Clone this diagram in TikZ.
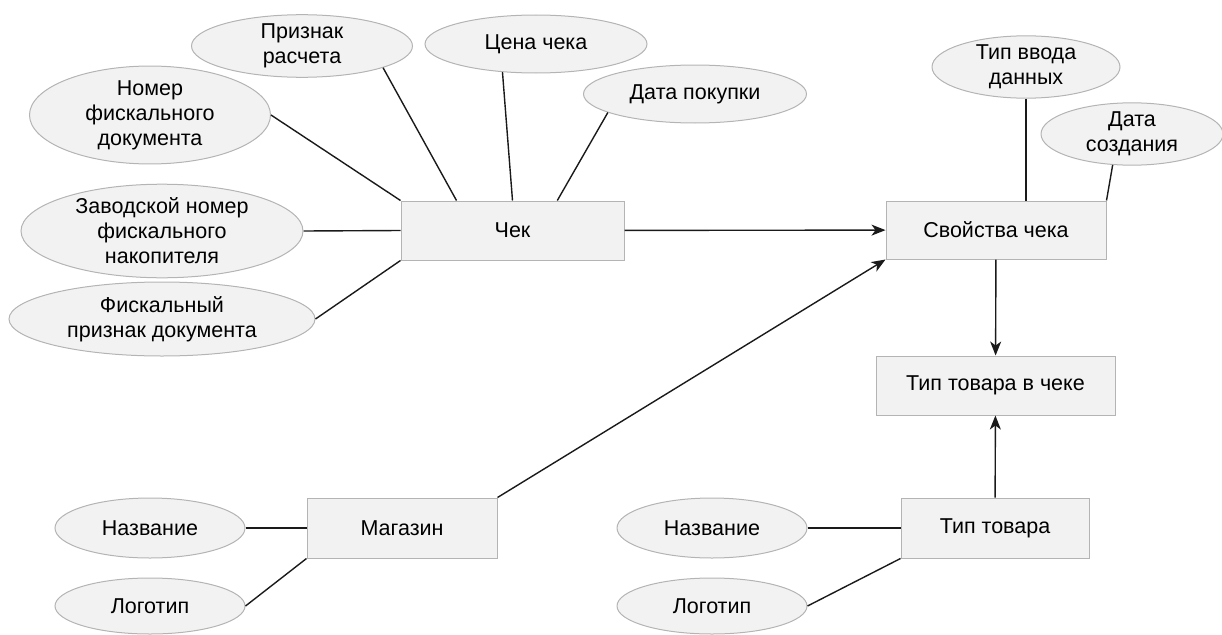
\documentclass[tikz,border=0pt]{standalone}
\usepackage{fontspec}
\setmainfont{Liberation Sans}
\usepackage{tikz}
\usetikzlibrary{arrows.meta,shapes.geometric,calc}
\definecolor{boxfill}{HTML}{F2F2F2}
\definecolor{boxline}{HTML}{B4B4B4}
\definecolor{inkline}{HTML}{1A1A1A}
\begin{document}
\begin{tikzpicture}[x=1pt,y=-1pt,font=\fontsize{21.5}{25}\selectfont]
\tikzstyle{attr}=[ellipse,draw=boxline,fill=boxfill,inner sep=0pt,align=center,line width=1pt]
\tikzstyle{entity}=[rectangle,draw=boxline,fill=boxfill,inner sep=0pt,line width=1pt]
\tikzstyle{link}=[inkline,line width=1.4pt]
\tikzstyle{rel}=[link,-{Stealth[length=14pt,width=11pt,inset=4pt]}]
\useasboundingbox (0,0) rectangle (1222,634);

% entities
\node[entity,minimum width=223pt,minimum height=59pt] (chek) at (512.5,230.5) {Чек};
\node[entity,minimum width=220pt,minimum height=58pt] (svojstva) at (996,230) {Свойства чека};
\node[entity,minimum width=239pt,minimum height=59pt] (tipvcheke) at (995.5,385.5) {Тип товара в чеке};
\node[entity,minimum width=190pt,minimum height=60pt] (magazin) at (402,528) {Магазин};
\node[entity,minimum width=188pt,minimum height=60pt] (tiptovara) at (995,528) {Тип товара};

% attributes
\node[attr,minimum width=221pt,minimum height=58pt] (priznak) at (302,46) {Признак\\расчета};
\node[attr,minimum width=222pt,minimum height=58pt] (cena) at (536,44) {Цена чека};
\node[attr,minimum width=223pt,minimum height=58pt] (datapok) at (695,94) {Дата покупки};
\node[attr,minimum width=241pt,minimum height=97pt] (nomer) at (150,115) {Номер\\фискального\\документа};
\node[attr,minimum width=282pt,minimum height=87pt] (zavod) at (162,231) {Заводской номер\\фискального\\накопителя};
\node[attr,minimum width=306pt,minimum height=74pt] (fiskal) at (162,319) {Фискальный\\признак документа};
\node[attr,minimum width=188pt,minimum height=60pt] (tipvvoda) at (1026,67) {Тип ввода\\данных};
\node[attr,minimum width=182pt,minimum height=58pt] (datasozd) at (1132,134) {Дата\\создания};
\node[attr,minimum width=190pt,minimum height=60pt] (nazv1) at (150,528) {Название};
\node[attr,minimum width=190pt,minimum height=56pt] (logo1) at (150,606) {Логотип};
\node[attr,minimum width=190pt,minimum height=60pt] (nazv2) at (712,528) {Название};
\node[attr,minimum width=190pt,minimum height=56pt] (logo2) at (712,606) {Логотип};

\draw[link] (priznak.-15) -- ($(chek.north west)!0.25!(chek.north east)$);
\draw[link] (cena.-140) -- (chek.north);
\draw[link] (datapok.-168) -- ($(chek.north west)!0.7!(chek.north east)$);
\draw[link] (nomer.east) -- (chek.north west);
\draw[link] (zavod.east) -- (chek.west);
\draw[link] (fiskal.east) -- (chek.south west);
\draw[link] (tipvvoda.south) -- (tipvvoda.south |- svojstva.north);
\draw[link] (datasozd.-122) -- (svojstva.north east);
\draw[link] (nazv1) -- (magazin);
\draw[link] (logo1.east) -- (magazin.south west);
\draw[link] (nazv2) -- (tiptovara);
\draw[link] (logo2.east) -- (tiptovara.south west);

\draw[rel] (chek) -- (svojstva);
\draw[rel] (magazin.north east) -- (svojstva.south west);
\draw[rel] (svojstva) -- (tipvcheke);
\draw[rel] (tiptovara) -- (tipvcheke);
\end{tikzpicture}
\end{document}
